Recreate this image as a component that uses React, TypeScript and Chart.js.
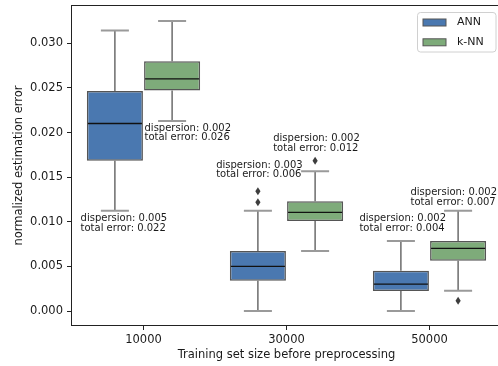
import React, { useEffect, useRef } from "react";
import { Chart, registerables } from "chart.js";

Chart.register(...registerables);

// ---------- data ----------
const categories = ["10000", "30000", "50000"];
const seriesNames = ["ANN", "k-NN"];
const seriesColors = ["#4a78b0", "#7eab7a"];

const annMin = [0.01123, 0.0, 0.0];
const annQ1 = [0.01683, 0.00339, 0.00224];
const annMedian = [0.02101, 0.005, 0.00302];
const annQ3 = [0.02466, 0.00672, 0.00451];
const annMax = [0.03142, 0.01123, 0.00784];
const annOutliers = [[], [0.0122, 0.01343], []];

const knnMin = [0.0213, 0.00672, 0.00227];
const knnQ1 = [0.0247, 0.01008, 0.00563];
const knnMedian = [0.026, 0.01105, 0.00702];
const knnQ3 = [0.02799, 0.01231, 0.00784];
const knnMax = [0.0325, 0.01567, 0.01123];
const knnOutliers = [[], [0.01683], [0.00115]];

const yTicks = [0, 0.005, 0.01, 0.015, 0.02, 0.025, 0.03];
const yMin = -0.001567;
const yMax = 0.034176;

// annotations: order ANN 10000, k-NN 10000, ANN 30000, k-NN 30000, ANN 50000, k-NN 50000
const annotationDispersion = ["0.005", "0.002", "0.003", "0.002", "0.002", "0.002"];
const annotationTotal = ["0.022", "0.026", "0.006", "0.012", "0.004", "0.007"];
const annotationX = [-0.44, 0.007, 0.508, 0.907, 1.51, 1.867];
const annotationY = [0.01036, 0.02049, 0.01634, 0.01933, 0.01038, 0.01329];

const stats = [
  { min: annMin, q1: annQ1, med: annMedian, q3: annQ3, max: annMax, out: annOutliers },
  { min: knnMin, q1: knnQ1, med: knnMedian, q3: knnQ3, max: knnMax, out: knnOutliers },
];

const FONT = "'DejaVu Sans', sans-serif";
const TEXT = "#1a1a1a";

const boxPlugin = {
  id: "boxExtras",
  afterDatasetsDraw(chart: any) {
    const ctx = chart.ctx;
    const ys = chart.scales.y;
    const xs = chart.scales.x;
    ctx.save();
    stats.forEach((s, di) => {
      const meta = chart.getDatasetMeta(di);
      meta.data.forEach((bar: any, i: number) => {
        const cx = bar.x;
        const w = bar.width;
        const pMin = ys.getPixelForValue(s.min[i]);
        const pMax = ys.getPixelForValue(s.max[i]);
        const pQ1 = ys.getPixelForValue(s.q1[i]);
        const pQ3 = ys.getPixelForValue(s.q3[i]);
        const pMed = ys.getPixelForValue(s.med[i]);
        // whiskers
        ctx.strokeStyle = "#555555";
        ctx.lineWidth = 1.3;
        ctx.beginPath();
        ctx.moveTo(cx, pQ3);
        ctx.lineTo(cx, pMax);
        ctx.moveTo(cx, pQ1);
        ctx.lineTo(cx, pMin);
        ctx.stroke();
        // caps
        ctx.strokeStyle = "#9a9a9a";
        ctx.lineWidth = 2;
        ctx.beginPath();
        ctx.moveTo(cx - w / 4, pMax);
        ctx.lineTo(cx + w / 4, pMax);
        ctx.moveTo(cx - w / 4, pMin);
        ctx.lineTo(cx + w / 4, pMin);
        ctx.stroke();
        // median
        ctx.strokeStyle = "#111111";
        ctx.lineWidth = 1.3;
        ctx.beginPath();
        ctx.moveTo(cx - w / 2 + 1, pMed);
        ctx.lineTo(cx + w / 2 - 1, pMed);
        ctx.stroke();
        // outliers (thin diamonds)
        ctx.fillStyle = "#3d3d3d";
        s.out[i].forEach((v: number) => {
          const py = ys.getPixelForValue(v);
          ctx.beginPath();
          ctx.moveTo(cx, py - 4);
          ctx.lineTo(cx + 2.6, py);
          ctx.lineTo(cx, py + 4);
          ctx.lineTo(cx - 2.6, py);
          ctx.closePath();
          ctx.fill();
        });
      });
    });

    // annotations
    ctx.fillStyle = TEXT;
    ctx.font = `10px ${FONT}`;
    ctx.textAlign = "left";
    ctx.textBaseline = "middle";
    annotationX.forEach((ax, k) => {
      const px = xs.getPixelForValue(ax);
      const py = ys.getPixelForValue(annotationY[k]);
      ctx.fillText(`dispersion: ${annotationDispersion[k]}`, px, py);
      ctx.fillText(`total error: ${annotationTotal[k]}`, px, py + 9.7);
    });

    // frame
    const a = chart.chartArea;
    ctx.strokeStyle = "#222222";
    ctx.lineWidth = 1;
    ctx.strokeRect(Math.round(a.left) - 0.5, Math.round(a.top) - 0.5, Math.round(a.right - a.left) + 1, Math.round(a.bottom - a.top) + 1);
    ctx.restore();
  },
  afterDraw(chart: any) {
    const ctx = chart.ctx;
    ctx.save();
    // legend box
    const lx = 417.5, ly = 12.5, lw = 78.5, lh = 39.5, r = 3;
    ctx.beginPath();
    ctx.moveTo(lx + r, ly);
    ctx.lineTo(lx + lw - r, ly);
    ctx.quadraticCurveTo(lx + lw, ly, lx + lw, ly + r);
    ctx.lineTo(lx + lw, ly + lh - r);
    ctx.quadraticCurveTo(lx + lw, ly + lh, lx + lw - r, ly + lh);
    ctx.lineTo(lx + r, ly + lh);
    ctx.quadraticCurveTo(lx, ly + lh, lx, ly + lh - r);
    ctx.lineTo(lx, ly + r);
    ctx.quadraticCurveTo(lx, ly, lx + r, ly);
    ctx.closePath();
    ctx.fillStyle = "rgba(255,255,255,0.85)";
    ctx.fill();
    ctx.strokeStyle = "#d0d0d0";
    ctx.lineWidth = 1;
    ctx.stroke();
    const rowsY = [22.5, 42.3];
    seriesNames.forEach((name, k) => {
      const cy = rowsY[k];
      ctx.fillStyle = seriesColors[k];
      ctx.fillRect(423, cy - 3.5, 23, 7);
      ctx.strokeStyle = "#555555";
      ctx.lineWidth = 1;
      ctx.strokeRect(423, cy - 3.5, 23, 7);
      ctx.fillStyle = TEXT;
      ctx.font = `11px ${FONT}`;
      ctx.textAlign = "left";
      ctx.textBaseline = "middle";
      ctx.fillText(name, 457, cy);
    });
    ctx.restore();
  },
};

export default function App() {
  const ref = useRef<HTMLCanvasElement | null>(null);
  useEffect(() => {
    if (!ref.current) return;
    const chart = new Chart(ref.current, {
      type: "bar",
      data: {
        labels: categories,
        datasets: stats.map((s, di) => ({
          label: seriesNames[di],
          data: s.q1.map((q, i) => [q, s.q3[i]]),
          backgroundColor: seriesColors[di],
          borderColor: "#555555",
          borderWidth: 1.5,
          borderSkipped: false,
          categoryPercentage: 0.8,
          barPercentage: 0.98,
        })) as any,
      },
      options: {
        responsive: false,
        animation: false,
        devicePixelRatio: 1,
        layout: { padding: { top: 6, right: 1, left: 0, bottom: 0 } },
        plugins: {
          legend: { display: false },
          tooltip: { enabled: false },
        },
        scales: {
          x: {
            grid: {
              display: true,
              drawOnChartArea: false,
              drawTicks: true,
              tickLength: 5,
              color: "#222222",
              offset: false,
            },
            border: { display: false },
            ticks: {
              color: TEXT,
              font: { family: FONT, size: 11.5 },
              padding: 3,
              maxRotation: 0,
            },
            title: {
              display: true,
              text: "Training set size before preprocessing",
              color: TEXT,
              font: { family: FONT, size: 11.5 },
              padding: { top: 0, bottom: 4 },
            },
            afterFit: (scale: any) => {
              scale.height = 41;
              scale.paddingLeft = 0;
              scale.paddingRight = 0;
            },
          },
          y: {
            min: yMin,
            max: yMax,
            grid: {
              display: true,
              drawOnChartArea: false,
              drawTicks: true,
              tickLength: 5,
              color: "#222222",
            },
            border: { display: false },
            afterBuildTicks: (scale: any) => {
              scale.ticks = yTicks.map((v) => ({ value: v }));
            },
            ticks: {
              color: TEXT,
              font: { family: FONT, size: 11.5 },
              padding: 4,
              callback: (v: any) => Number(v).toFixed(3),
            },
            title: {
              display: true,
              text: "normalized estimation error",
              color: TEXT,
              font: { family: FONT, size: 11.5 },
              padding: { top: 12, bottom: 0 },
            },
            afterFit: (scale: any) => {
              scale.width = 72;
              scale.paddingTop = 0;
              scale.paddingBottom = 0;
            },
          },
        },
      },
      plugins: [boxPlugin],
    });
    return () => chart.destroy();
  }, []);
  return (
    <div style={{ position: "fixed", left: 0, top: 0, width: 502, height: 366, background: "#fff" }}>
      <canvas ref={ref} width={502} height={366} style={{ width: 502, height: 366, display: "block" }} />
    </div>
  );
}
